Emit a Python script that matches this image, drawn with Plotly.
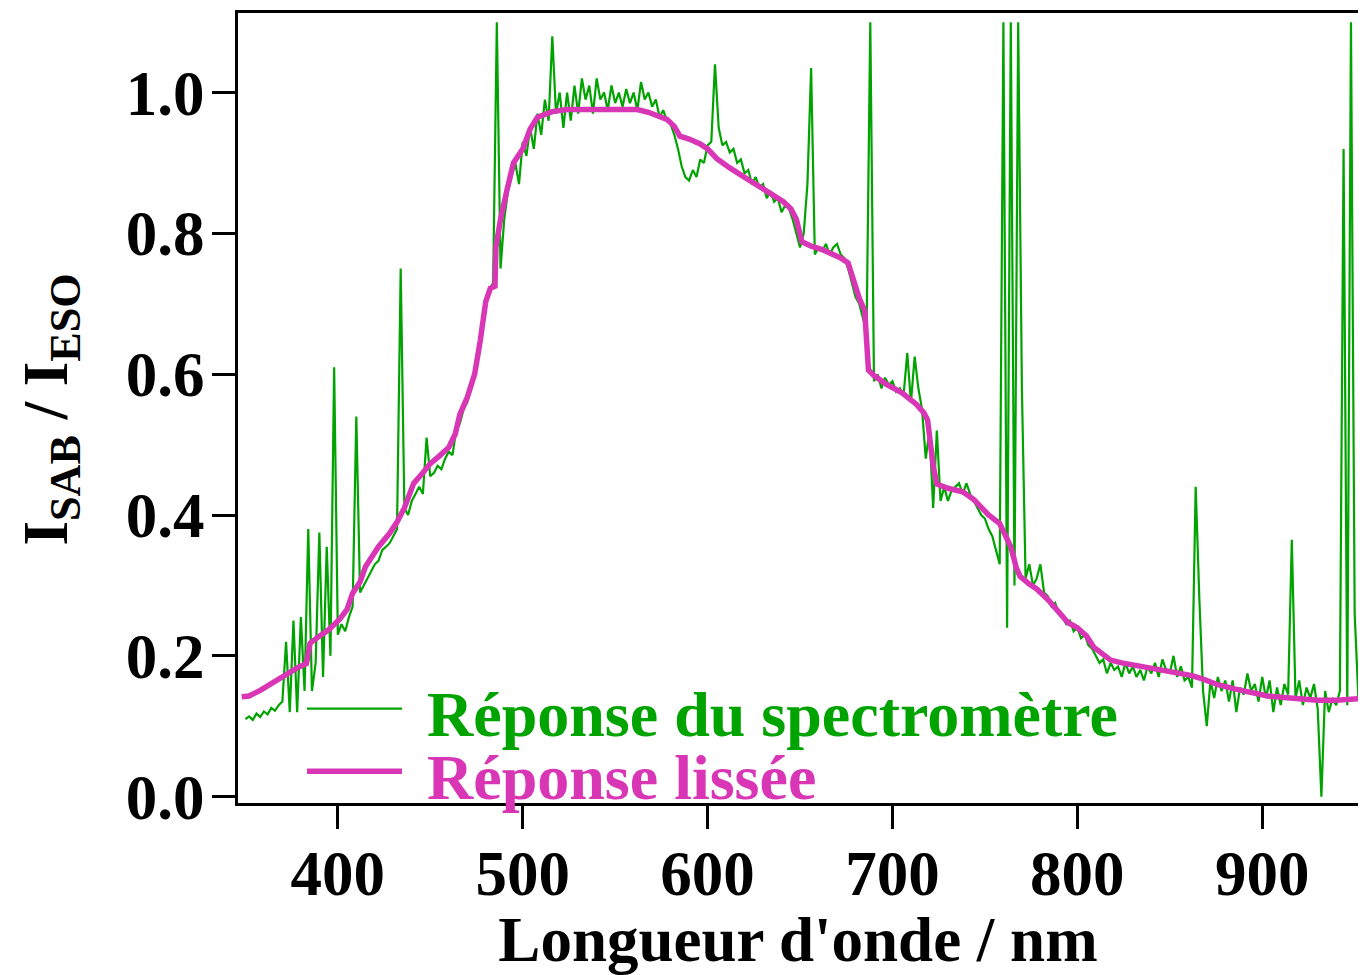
import plotly.graph_objects as go

# Raw spectrometer response, sampled every 2 nm from 350 to 952 nm
wl_raw = list(range(350, 954, 2))
resp_raw = [
    # 350-368
    0.110, 0.114, 0.109, 0.118, 0.113, 0.121, 0.117, 0.126, 0.122, 0.130,
    # 370-388
    0.135, 0.220, 0.120, 0.250, 0.120, 0.255, 0.150, 0.380, 0.150, 0.190,
    # 390-408
    0.375, 0.170, 0.355, 0.200, 0.610, 0.230, 0.245, 0.235, 0.255, 0.270,
    # 410-428
    0.540, 0.290, 0.300, 0.310, 0.320, 0.330, 0.335, 0.350, 0.355, 0.360,
    # 430-448
    0.370, 0.380, 0.750, 0.410, 0.400, 0.420, 0.430, 0.440, 0.430, 0.510,
    # 450-468
    0.455, 0.460, 0.470, 0.465, 0.480, 0.490, 0.485, 0.520, 0.530, 0.550,
    # 470-488
    0.560, 0.580, 0.600, 0.625, 0.660, 0.700, 0.720, 0.730, 1.100, 0.750,
    # 490-508
    0.820, 0.860, 0.880, 0.900, 0.870, 0.930, 0.910, 0.950, 0.920, 0.970,
    # 510-528
    0.940, 0.990, 0.960, 1.080, 0.970, 1.000, 0.950, 1.000, 0.960, 1.010,
    # 530-548
    0.970, 1.020, 0.990, 1.010, 0.970, 1.020, 0.990, 1.000, 0.975, 1.010,
    # 550-568
    0.985, 1.000, 0.980, 1.005, 0.985, 1.000, 0.975, 1.015, 0.990, 1.000,
    # 570-588
    0.980, 0.990, 0.965, 0.975, 0.960, 0.955, 0.940, 0.920, 0.895, 0.880,
    # 590-608
    0.875, 0.890, 0.880, 0.905, 0.900, 0.925, 0.930, 1.040, 0.950, 0.925,
    # 610-628
    0.930, 0.915, 0.920, 0.900, 0.905, 0.885, 0.890, 0.870, 0.880, 0.865,
    # 630-648
    0.870, 0.850, 0.860, 0.845, 0.850, 0.830, 0.840, 0.835, 0.820, 0.800,
    # 650-668
    0.780, 0.800, 0.870, 1.035, 0.770, 0.780, 0.775, 0.785, 0.770, 0.780,
    # 670-688
    0.785, 0.770, 0.765, 0.750, 0.730, 0.710, 0.700, 0.680, 0.660, 1.100,
    # 690-708
    0.590, 0.600, 0.580, 0.595, 0.585, 0.590, 0.575, 0.580, 0.570, 0.630,
    # 710-728
    0.560, 0.625, 0.580, 0.550, 0.480, 0.520, 0.410, 0.520, 0.420, 0.440,
    # 730-748
    0.420, 0.435, 0.440, 0.445, 0.430, 0.445, 0.430, 0.420, 0.410, 0.400,
    # 750-768
    0.395, 0.380, 0.370, 0.350, 0.330, 1.100, 0.240, 1.100, 0.300, 1.100,
    # 770-788
    0.580, 0.310, 0.330, 0.300, 0.310, 0.330, 0.290, 0.285, 0.270, 0.275,
    # 790-808
    0.260, 0.255, 0.245, 0.250, 0.235, 0.240, 0.225, 0.230, 0.215, 0.210,
    # 810-828
    0.200, 0.190, 0.195, 0.175, 0.190, 0.180, 0.185, 0.170, 0.190, 0.175,
    # 830-848
    0.185, 0.170, 0.180, 0.165, 0.185, 0.175, 0.190, 0.170, 0.195, 0.180,
    # 850-868
    0.175, 0.200, 0.170, 0.185, 0.165, 0.170, 0.155, 0.440, 0.280, 0.150,
    # 870-888
    0.100, 0.165, 0.140, 0.170, 0.150, 0.165, 0.135, 0.165, 0.120, 0.155,
    # 890-908
    0.145, 0.175, 0.150, 0.160, 0.135, 0.170, 0.140, 0.165, 0.120, 0.155,
    # 910-928
    0.130, 0.160, 0.145, 0.365, 0.140, 0.165, 0.130, 0.155, 0.140, 0.160,
    # 930-948
    0.125, 0.000, 0.150, 0.120, 0.140, 0.130, 0.150, 0.920, 0.130, 1.100,
    # 950-952
    0.260, 0.140,
]

# Smoothed response
wl_smooth = [
    348, 352, 358, 365, 372.6, 378, 383, 385, 390, 395, 401, 405, 408, 412,
    415, 422, 428, 432, 436, 441, 446, 450, 455, 460, 463.5, 466, 470, 474,
    477, 480, 482.5, 485, 485.5, 488, 491.6, 495, 500, 504, 508, 516, 524,
    540, 562, 568, 573, 578, 582, 585, 590, 596, 600, 605, 612, 618, 624,
    629, 636, 641, 645, 648, 651, 656, 662, 668, 672, 676, 679, 682, 685,
    687, 690, 697, 705, 713, 717, 719, 722, 724, 730, 738, 744, 748, 752,
    758, 761, 764, 767, 769, 774, 778, 784, 790, 795, 800, 805, 809, 813,
    818, 824, 835, 845, 854, 862, 868, 876, 885, 895, 903, 915, 930, 940, 952,
]
resp_smooth = [
    0.142, 0.143, 0.151, 0.162, 0.175, 0.183, 0.189, 0.218, 0.228, 0.237,
    0.252, 0.266, 0.289, 0.305, 0.327, 0.355, 0.374, 0.390, 0.410, 0.445,
    0.460, 0.473, 0.484, 0.496, 0.515, 0.543, 0.567, 0.600, 0.647, 0.703,
    0.722, 0.725, 0.780, 0.820, 0.863, 0.900, 0.920, 0.948, 0.965, 0.973,
    0.976, 0.976, 0.976, 0.972, 0.968, 0.962, 0.952, 0.938, 0.934, 0.927,
    0.920, 0.906, 0.893, 0.882, 0.873, 0.865, 0.853, 0.845, 0.835, 0.820,
    0.788, 0.782, 0.777, 0.770, 0.765, 0.758, 0.732, 0.708, 0.690, 0.606,
    0.598, 0.585, 0.574, 0.557, 0.545, 0.535, 0.470, 0.444, 0.438, 0.433,
    0.422, 0.412, 0.400, 0.388, 0.370, 0.355, 0.325, 0.313, 0.302, 0.295,
    0.280, 0.262, 0.247, 0.240, 0.228, 0.212, 0.203, 0.194, 0.190, 0.185,
    0.180, 0.176, 0.172, 0.167, 0.159, 0.153, 0.147, 0.143, 0.140, 0.137,
    0.137, 0.139,
]

x_ticks = [400, 500, 600, 700, 800, 900]
y_ticks = [0.0, 0.2, 0.4, 0.6, 0.8, 1.0]

GREEN = "#00a300"
MAGENTA = "#d836b5"
FONT = "Liberation Serif"
FS = 63

fig = go.Figure()
fig.add_trace(go.Scatter(x=wl_raw, y=resp_raw, mode="lines",
                         line=dict(color=GREEN, width=2.2),
                         name="Réponse du spectromètre"))
fig.add_trace(go.Scatter(x=wl_smooth, y=resp_smooth, mode="lines",
                         line=dict(color=MAGENTA, width=5.5),
                         name="Réponse lissée"))

L, R, T, B = 238, 2, 13, 167
W, H = 1360, 975
pw, ph = W - L - R, H - T - B

def px(xp):
    return (xp - L) / pw

def py(yp):
    return (H - B - yp) / ph

# manual legend
legend_items = [("Réponse du spectromètre", GREEN, 2.2, 713),
                ("Réponse lissée", MAGENTA, 5.5, 776)]
for text, col, w, yp in legend_items:
    fig.add_shape(type="line", xref="paper", yref="paper",
                  x0=px(307), x1=px(402), y0=py(yp), y1=py(yp),
                  line=dict(color=col, width=w))
    fig.add_annotation(xref="paper", yref="paper", x=px(425), y=py(yp + 6),
                       xanchor="left", yanchor="middle", showarrow=False,
                       text="<b>%s</b>" % text,
                       font=dict(family=FONT, size=64, color=col))

# y-axis title as rotated annotation
fig.add_annotation(xref="paper", yref="paper", x=px(50), y=py(412),
                   xanchor="center", yanchor="middle", showarrow=False,
                   textangle=-90,
                   text="<b>I<sub>SAB</sub> / I<sub>ESO</sub></b>",
                   font=dict(family=FONT, size=FS, color="black"))

fig.update_layout(
    width=W, height=H,
    margin=dict(l=L, r=R, t=T, b=B),
    plot_bgcolor="white", paper_bgcolor="white",
    showlegend=False,
    font=dict(family=FONT, size=FS, color="black"),
)
fig.update_xaxes(
    range=[346.0, 951.8], tickvals=x_ticks, ticktext=["<b>%d</b>" % v for v in x_ticks],
    ticks="outside", ticklen=23, tickwidth=3, tickcolor="black",
    showline=True, linewidth=3, linecolor="black", mirror=True,
    showgrid=False, zeroline=False,
    tickfont=dict(family=FONT, size=FS, color="black"),
    ticklabelstandoff=-10,
    title=dict(text="<b>Longueur d'onde / nm</b>", standoff=20,
               font=dict(family=FONT, size=FS, color="black")),
)
fig.update_yaxes(
    range=[-0.009, 1.113], tickvals=y_ticks, ticktext=["<b>%.1f</b>" % v for v in y_ticks],
    ticks="outside", ticklen=23, tickwidth=3, tickcolor="black",
    showline=True, linewidth=3, linecolor="black",
    showgrid=False, zeroline=False,
    tickfont=dict(family=FONT, size=FS, color="black"),
    ticklabelstandoff=-5,
)

fig.write_html("out.html")
